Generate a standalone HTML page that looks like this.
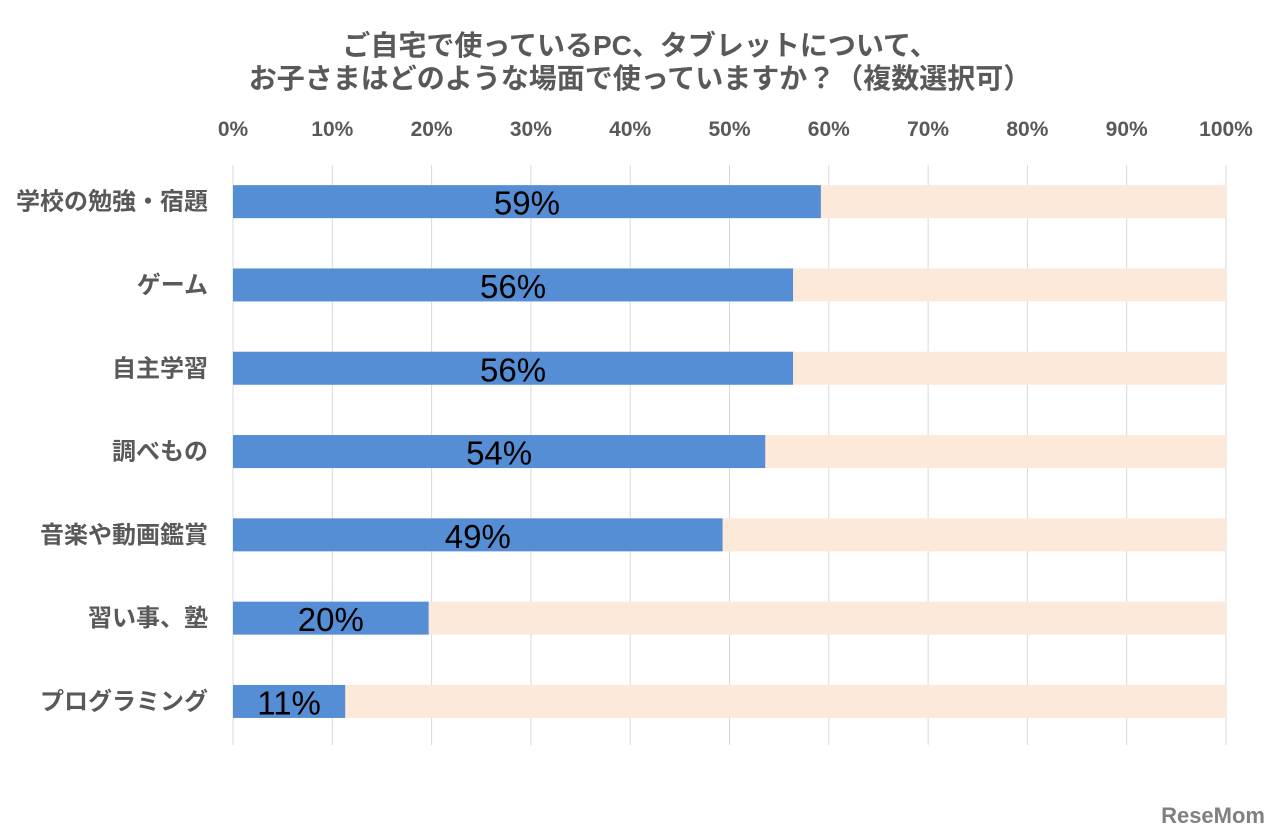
<!DOCTYPE html>
<html><head><meta charset="utf-8"><style>
body{margin:0;background:#fff;}
svg{display:block;font-family:"Liberation Sans","Noto Sans CJK JP",sans-serif;}
</style></head><body>
<svg id="chart" width="1280" height="835">
<text x="640" y="55" text-anchor="middle" font-size="28" font-weight="bold" fill="#595959">ご自宅で使っているPC、タブレットについて、</text>
<text x="640" y="88" text-anchor="middle" font-size="28" font-weight="bold" fill="#595959">お子さまはどのような場面で使っていますか？（複数選択可）</text>
<g id="grid"></g><g id="bars"></g><g id="labels"></g>
<text x="1265" y="823" text-anchor="end" font-size="22" font-weight="bold" fill="#808080">ReseMom</text>
</svg>
<script>
const categories=["学校の勉強・宿題","ゲーム","自主学習","調べもの","音楽や動画鑑賞","習い事、塾","プログラミング"];
const values=[59.2,56.4,56.4,53.6,49.3,19.7,11.3];
const valueLabels=["59%","56%","56%","54%","49%","20%","11%"];
const ticks=[0,10,20,30,40,50,60,70,80,90,100];
const NS="http://www.w3.org/2000/svg";
const x0=233,x1=1226,yTop=165,yBot=745,rowTop=160,rowH=83.3,barH=33;
const xs=v=>x0+(v/100)*(x1-x0);
const yc=i=>rowTop+rowH*(i+0.5);
function mk(t,a,p){const e=document.createElementNS(NS,t);for(const k in a)e.setAttribute(k,a[k]);p.appendChild(e);return e;}
const grid=document.getElementById('grid'),bars=document.getElementById('bars'),labels=document.getElementById('labels');
ticks.forEach(t=>{
 const l=mk('line',{x1:xs(t),x2:xs(t),y1:yTop,y2:yBot,stroke:'#d9d9d9','stroke-width':1},grid);
 
 
 const tx=mk('text',{x:xs(t),y:136,'text-anchor':'middle','font-size':21,'font-weight':'bold',fill:'#595959'},grid);
 tx.textContent=t+'%';
 
 
});
categories.forEach((c,i)=>{
 const y=yc(i);
 const bg=mk('rect',{x:xs(0),y:y-barH/2,width:xs(100)-xs(0),height:barH,fill:'#fde9d9'},bars);
 
 
 const b=mk('rect',{x:xs(0),y:y-barH/2,width:xs(values[i])-xs(0),height:barH,fill:'#558ed5'},bars);
 
 
 const cl=mk('text',{x:208,y:y+8,'text-anchor':'end','font-size':24,'font-weight':'bold',fill:'#595959'},labels);
 cl.textContent=c;
 
 
 const vl=mk('text',{x:(xs(0)+xs(values[i]))/2,y:y+13,'text-anchor':'middle','font-size':33,fill:'#000'},labels);
 vl.textContent=valueLabels[i];
 
 
});
</script>
</body></html>
